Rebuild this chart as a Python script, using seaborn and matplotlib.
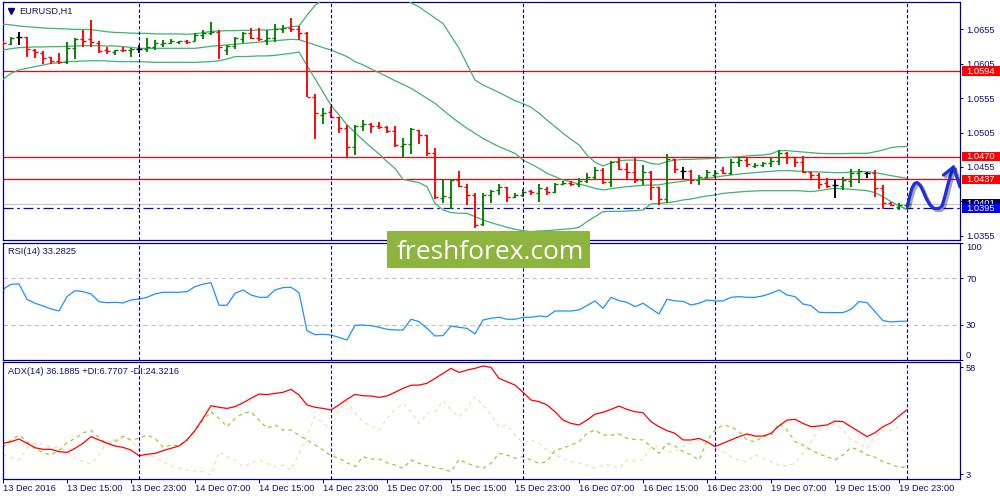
import matplotlib
matplotlib.use("Agg")
import matplotlib.pyplot as plt
import matplotlib.patheffects as pe
import matplotlib.transforms as mtransforms
from matplotlib.patches import Rectangle
import numpy as np
import pandas as pd
import seaborn as sns

# EURUSD H1 bars, 13 Dec 07:00 .. 20 Dec 00:00
opens = [1.06350, 1.06330, 1.06430, 1.06430, 1.06250, 1.06200, 1.06140, 1.06090, 1.06070, 1.06270,
         1.06400, 1.06400, 1.06350, 1.06240, 1.06220, 1.06250, 1.06240, 1.06255, 1.06260, 1.06290,
         1.06330, 1.06350, 1.06360, 1.06370, 1.06370, 1.06460, 1.06490, 1.06510, 1.06250, 1.06300,
         1.06410, 1.06490, 1.06420, 1.06390, 1.06415, 1.06545, 1.06570, 1.06550, 1.06490, 1.05570,
         1.05310, 1.05340, 1.05270, 1.05120, 1.04845, 1.05140, 1.05173, 1.05150, 1.05125, 1.05072,
         1.04860, 1.04880, 1.05080, 1.05014, 1.04748, 1.04100, 1.04120, 1.04362, 1.04265, 1.04140,
         1.03720, 1.04140, 1.04210, 1.04255, 1.04120, 1.04140, 1.04195, 1.04180, 1.04230, 1.04193,
         1.04303, 1.04323, 1.04303, 1.04342, 1.04410, 1.04500, 1.04337, 1.04627, 1.04516, 1.04482,
         1.04362, 1.04482, 1.04255, 1.04081, 1.04661, 1.04490, 1.04490, 1.04362, 1.04410, 1.04434,
         1.04500, 1.04460, 1.04627, 1.04655, 1.04570, 1.04585, 1.04603, 1.04642, 1.04748, 1.04700,
         1.04627, 1.04482, 1.04434, 1.04320, 1.04285, 1.04280, 1.04350, 1.04468, 1.04470, 1.04470,
         1.04240, 1.04023, 1.03970, 1.03995]
highs = [1.06370, 1.06430, 1.06500, 1.06440, 1.06260, 1.06236, 1.06150, 1.06200, 1.06360, 1.06415,
         1.06536, 1.06680, 1.06380, 1.06290, 1.06250, 1.06290, 1.06280, 1.06320, 1.06415, 1.06390,
         1.06390, 1.06400, 1.06370, 1.06390, 1.06490, 1.06540, 1.06650, 1.06530, 1.06320, 1.06430,
         1.06510, 1.06560, 1.06570, 1.06536, 1.06620, 1.06610, 1.06705, 1.06600, 1.06500, 1.05610,
         1.05400, 1.05434, 1.05280, 1.05160, 1.05160, 1.05230, 1.05190, 1.05200, 1.05144, 1.05140,
         1.04965, 1.05110, 1.05086, 1.05014, 1.04830, 1.04371, 1.04371, 1.04497, 1.04300, 1.04180,
         1.04168, 1.04217, 1.04303, 1.04265, 1.04168, 1.04226, 1.04217, 1.04303, 1.04255, 1.04313,
         1.04342, 1.04352, 1.04386, 1.04468, 1.04555, 1.04530, 1.04642, 1.04700, 1.04603, 1.04700,
         1.04579, 1.04490, 1.04265, 1.04738, 1.04670, 1.04545, 1.04507, 1.04434, 1.04507, 1.04507,
         1.04555, 1.04661, 1.04690, 1.04676, 1.04603, 1.04627, 1.04676, 1.04797, 1.04767, 1.04700,
         1.04710, 1.04482, 1.04458, 1.04386, 1.04362, 1.04410, 1.04516, 1.04516, 1.04478, 1.04507,
         1.04290, 1.04048, 1.04023, 1.04033]
lows = [1.06280, 1.06320, 1.06320, 1.06140, 1.06125, 1.06050, 1.06040, 1.06050, 1.06050, 1.06110,
        1.06294, 1.06290, 1.06200, 1.06190, 1.06173, 1.06210, 1.06150, 1.06200, 1.06220, 1.06250,
        1.06290, 1.06330, 1.06330, 1.06330, 1.06370, 1.06410, 1.06460, 1.06110, 1.06173, 1.06260,
        1.06340, 1.06400, 1.06380, 1.06320, 1.06366, 1.06487, 1.06500, 1.06390, 1.05560, 1.04950,
        1.05180, 1.05255, 1.05048, 1.04676, 1.04724, 1.05077, 1.05048, 1.05100, 1.05048, 1.04845,
        1.04690, 1.04738, 1.04883, 1.04710, 1.04081, 1.04033, 1.03936, 1.04265, 1.04000, 1.03660,
        1.03700, 1.04033, 1.04144, 1.04048, 1.04096, 1.04120, 1.04144, 1.04048, 1.04144, 1.04178,
        1.04290, 1.04275, 1.04255, 1.04323, 1.04362, 1.04299, 1.04265, 1.04507, 1.04371, 1.04323,
        1.04290, 1.04072, 1.04000, 1.04033, 1.04458, 1.04371, 1.04303, 1.04290, 1.04386, 1.04386,
        1.04448, 1.04434, 1.04555, 1.04555, 1.04530, 1.04555, 1.04555, 1.04579, 1.04593, 1.04555,
        1.04458, 1.04362, 1.04226, 1.04240, 1.04096, 1.04217, 1.04265, 1.04323, 1.04386, 1.04120,
        1.03936, 1.03985, 1.03927, 1.03936]
closes = [1.06340, 1.06415, 1.06430, 1.06260, 1.06210, 1.06125, 1.06080, 1.06070, 1.06270, 1.06405,
          1.06380, 1.06366, 1.06236, 1.06230, 1.06240, 1.06240, 1.06255, 1.06255, 1.06294, 1.06340,
          1.06350, 1.06370, 1.06370, 1.06360, 1.06460, 1.06490, 1.06510, 1.06290, 1.06300, 1.06415,
          1.06490, 1.06415, 1.06400, 1.06415, 1.06545, 1.06560, 1.06550, 1.06490, 1.05570, 1.05330,
          1.05335, 1.05270, 1.05120, 1.04845, 1.05140, 1.05173, 1.05140, 1.05130, 1.05072, 1.04870,
          1.04880, 1.05096, 1.05014, 1.04748, 1.04110, 1.04125, 1.04362, 1.04275, 1.04140, 1.03710,
          1.04144, 1.04207, 1.04265, 1.04120, 1.04144, 1.04193, 1.04183, 1.04240, 1.04193, 1.04303,
          1.04323, 1.04303, 1.04342, 1.04410, 1.04500, 1.04337, 1.04627, 1.04516, 1.04482, 1.04362,
          1.04482, 1.04255, 1.04081, 1.04661, 1.04516, 1.04490, 1.04362, 1.04410, 1.04482, 1.04468,
          1.04460, 1.04627, 1.04651, 1.04593, 1.04585, 1.04603, 1.04642, 1.04748, 1.04700, 1.04627,
          1.04482, 1.04434, 1.04300, 1.04275, 1.04285, 1.04362, 1.04468, 1.04497, 1.04470, 1.04240,
          1.04023, 1.04000, 1.04005, 1.04014]

# Bollinger bands as drawn
bb_upper = [1.06620, 1.06610, 1.06593, 1.06584, 1.06575, 1.06565, 1.06560, 1.06555, 1.06550, 1.06545,
            1.06545, 1.06540, 1.06526, 1.06510, 1.06500, 1.06497, 1.06490, 1.06487, 1.06487, 1.06480,
            1.06478, 1.06478, 1.06478, 1.06473, 1.06480, 1.06497, 1.06516, 1.06520, 1.06526, 1.06526,
            1.06530, 1.06530, 1.06536, 1.06536, 1.06545, 1.06555, 1.06584, 1.06593, 1.06748, 1.06893,
            1.06980, 1.07050, 1.07100, 1.07130, 1.07140, 1.07140, 1.07130, 1.07110, 1.07080, 1.07050,
            1.07000, 1.06930, 1.06870, 1.06790, 1.06710, 1.06630, 1.06450, 1.06270, 1.06040, 1.05810,
            1.05740, 1.05685, 1.05630, 1.05570, 1.05510, 1.05470, 1.05415, 1.05330, 1.05230, 1.05135,
            1.05040, 1.04950, 1.04870, 1.04724, 1.04618, 1.04565, 1.04610, 1.04640, 1.04650, 1.04650,
            1.04640, 1.04600, 1.04590, 1.04627, 1.04650, 1.04660, 1.04660, 1.04666, 1.04670, 1.04676,
            1.04685, 1.04690, 1.04700, 1.04710, 1.04720, 1.04724, 1.04740, 1.04787, 1.04787, 1.04777,
            1.04767, 1.04758, 1.04748, 1.04743, 1.04743, 1.04743, 1.04748, 1.04748, 1.04748, 1.04770,
            1.04796, 1.04830, 1.04845, 1.04845]
bb_middle = [1.06246, 1.06265, 1.06280, 1.06284, 1.06290, 1.06290, 1.06294, 1.06294, 1.06300, 1.06304,
             1.06308, 1.06308, 1.06308, 1.06304, 1.06304, 1.06294, 1.06284, 1.06270, 1.06270, 1.06270,
             1.06270, 1.06270, 1.06270, 1.06270, 1.06270, 1.06284, 1.06300, 1.06308, 1.06320, 1.06328,
             1.06340, 1.06350, 1.06360, 1.06370, 1.06380, 1.06390, 1.06400, 1.06395, 1.06357, 1.06320,
             1.06280, 1.06246, 1.06197, 1.06150, 1.06077, 1.06030, 1.05970, 1.05917, 1.05860, 1.05800,
             1.05748, 1.05690, 1.05618, 1.05545, 1.05473, 1.05376, 1.05280, 1.05193, 1.05110, 1.05038,
             1.04965, 1.04903, 1.04845, 1.04796, 1.04748, 1.04650, 1.04593, 1.04530, 1.04458, 1.04410,
             1.04362, 1.04337, 1.04303, 1.04275, 1.04240, 1.04217, 1.04236, 1.04250, 1.04265, 1.04275,
             1.04284, 1.04290, 1.04290, 1.04313, 1.04328, 1.04342, 1.04362, 1.04371, 1.04386, 1.04400,
             1.04420, 1.04434, 1.04448, 1.04458, 1.04468, 1.04478, 1.04487, 1.04497, 1.04497, 1.04492,
             1.04487, 1.04482, 1.04478, 1.04473, 1.04468, 1.04468, 1.04478, 1.04482, 1.04482, 1.04468,
             1.04448, 1.04425, 1.04405, 1.04386]
bb_lower = [1.05820, 1.05907, 1.05956, 1.05980, 1.06004, 1.06028, 1.06052, 1.06060, 1.06077, 1.06080,
            1.06086, 1.06090, 1.06090, 1.06086, 1.06080, 1.06077, 1.06077, 1.06077, 1.06072, 1.06067,
            1.06067, 1.06067, 1.06067, 1.06067, 1.06067, 1.06072, 1.06077, 1.06090, 1.06115, 1.06150,
            1.06150, 1.06154, 1.06160, 1.06160, 1.06168, 1.06183, 1.06197, 1.06217, 1.06018, 1.05830,
            1.05637, 1.05444, 1.05304, 1.05160, 1.05050, 1.04940, 1.04835, 1.04740, 1.04627, 1.04530,
            1.04370, 1.04347, 1.04323, 1.04265, 1.04023, 1.03927, 1.03890, 1.03880, 1.03880, 1.03830,
            1.03782, 1.03743, 1.03710, 1.03676, 1.03647, 1.03627, 1.03613, 1.03623, 1.03627, 1.03637,
            1.03647, 1.03656, 1.03676, 1.03758, 1.03830, 1.03903, 1.03907, 1.03907, 1.03912, 1.03917,
            1.03927, 1.04014, 1.04023, 1.04033, 1.04048, 1.04072, 1.04086, 1.04110, 1.04130, 1.04144,
            1.04168, 1.04178, 1.04188, 1.04197, 1.04202, 1.04207, 1.04207, 1.04207, 1.04207, 1.04207,
            1.04202, 1.04193, 1.04207, 1.04226, 1.04240, 1.04236, 1.04226, 1.04217, 1.04207, 1.04178,
            1.04120, 1.04048, 1.03985, 1.03936]

rsi = [60.6, 64.9, 65.1, 52.0, 48.6, 46.3, 43.7, 42.0, 54.3, 59.4,
       58.6, 56.6, 50.0, 49.1, 49.4, 48.9, 51.4, 52.3, 53.7, 56.6,
       58.0, 58.0, 58.0, 58.6, 62.9, 64.9, 66.3, 46.9, 46.9, 57.1,
       60.0, 55.7, 53.7, 53.7, 60.0, 62.0, 62.3, 57.7, 25.1, 21.7,
       22.0, 21.4, 19.4, 17.1, 29.7, 30.0, 29.4, 28.0, 26.3, 25.7,
       25.7, 34.9, 32.9, 27.1, 20.6, 20.9, 29.1, 28.0, 27.1, 22.3,
       34.3, 35.7, 36.6, 34.9, 34.9, 36.6, 36.6, 37.7, 37.1, 42.0,
       42.0, 42.0, 42.9, 46.6, 50.6, 44.3, 53.7, 50.9, 49.4, 45.7,
       48.6, 44.0, 39.4, 52.0, 50.6, 50.3, 47.1, 48.6, 51.4, 50.6,
       50.6, 53.7, 54.3, 53.7, 53.7, 54.9, 57.1, 60.0, 55.7, 54.3,
       48.0, 46.6, 40.9, 40.6, 40.6, 40.6, 43.4, 50.0, 49.1, 41.4,
       33.7, 32.6, 33.1, 33.2825]

adx = [19.0, 19.8, 21.2, 19.0, 16.7, 15.9, 15.9, 14.7, 14.3, 16.4,
       19.0, 22.4, 20.7, 19.0, 17.6, 16.9, 15.5, 12.6, 13.3, 13.8,
       15.2, 16.4, 17.6, 20.7, 25.5, 31.8, 38.3, 37.5, 36.9, 37.8,
       39.8, 42.1, 44.3, 44.0, 44.6, 45.2, 46.7, 43.8, 38.7, 37.5,
       36.9, 36.1, 38.7, 41.6, 44.1, 43.4, 43.3, 42.6, 43.3, 45.2,
       47.2, 48.8, 48.9, 49.8, 52.3, 54.9, 57.5, 55.4, 56.6, 57.5,
       58.7, 58.0, 52.3, 50.6, 48.9, 45.2, 41.2, 40.4, 38.7, 35.2,
       30.9, 29.2, 28.4, 30.9, 34.0, 34.9, 36.4, 38.1, 36.4, 35.2,
       34.7, 30.1, 27.5, 25.5, 24.1, 20.7, 20.7, 21.5, 19.8, 17.3,
       19.0, 20.7, 22.4, 23.8, 22.7, 22.7, 24.1, 27.9, 30.9, 31.3,
       29.2, 27.5, 27.9, 28.4, 30.4, 30.1, 27.5, 25.0, 22.4, 24.4,
       27.5, 29.5, 33.0, 36.1885]
plus_di = [16.9, 20.7, 23.2, 19.8, 16.4, 14.2, 13.0, 15.5, 19.3, 21.5,
           24.4, 25.5, 22.0, 18.6, 19.8, 22.7, 20.7, 21.5, 23.2, 21.5,
           16.9, 18.1, 17.6, 20.7, 25.8, 30.9, 35.2, 31.8, 27.5, 31.8,
           34.4, 35.2, 30.9, 26.7, 28.4, 25.8, 25.8, 23.2, 20.7, 18.1,
           15.5, 12.5, 11.3, 9.0, 7.0, 12.1, 10.9, 10.9, 9.0, 7.8,
           6.1, 10.4, 8.7, 7.3, 6.5, 5.8, 4.4, 10.7, 8.7, 7.3,
           6.1, 8.7, 13.8, 13.0, 11.3, 12.1, 10.4, 8.7, 9.5, 15.5,
           16.4, 18.1, 19.8, 24.1, 25.8, 23.2, 23.2, 23.8, 21.5, 21.0,
           20.7, 17.3, 13.8, 19.0, 17.6, 14.7, 13.0, 10.4, 20.3, 25.8,
           28.4, 27.5, 25.0, 20.7, 19.8, 22.4, 23.2, 29.2, 25.8, 19.8,
           18.1, 15.5, 13.5, 12.1, 10.4, 13.0, 16.9, 15.5, 13.0, 11.8,
           9.5, 8.2, 6.6, 6.7707]
minus_di = [13.0, 11.8, 10.4, 16.4, 19.0, 18.6, 16.9, 16.9, 14.7, 11.3,
            9.5, 8.3, 13.0, 19.8, 20.7, 21.5, 20.7, 15.5, 13.0, 12.1,
            9.5, 7.3, 6.1, 5.3, 4.7, 4.4, 2.7, 14.7, 12.1, 10.4,
            7.0, 8.7, 10.4, 8.7, 7.0, 7.8, 5.3, 13.8, 23.2, 32.7,
            29.2, 26.7, 36.1, 40.4, 34.4, 30.1, 27.9, 25.8, 31.8, 36.1,
            39.5, 35.2, 29.2, 34.4, 35.2, 40.9, 36.1, 32.7, 36.9, 42.9,
            38.7, 33.5, 27.5, 28.4, 23.2, 19.3, 20.7, 19.0, 15.5, 13.0,
            11.3, 9.5, 8.7, 7.8, 6.1, 7.8, 7.8, 6.1, 10.4, 10.1,
            10.4, 17.3, 17.3, 14.7, 14.7, 17.3, 19.0, 20.7, 19.3, 16.9,
            14.7, 12.1, 10.4, 9.5, 13.0, 11.3, 9.5, 7.8, 7.3, 8.7,
            13.8, 19.8, 25.8, 26.7, 29.2, 25.8, 20.7, 19.0, 16.4, 22.4,
            25.8, 25.5, 27.5, 24.3216]

red_levels = [1.0594, 1.0470, 1.0437]
support_level = 1.0395
price_ticks = [1.0355, 1.0405, 1.0455, 1.0505, 1.0555, 1.0605, 1.0655]
hidden_ticks = [1.0405]  # sits under the price boxes on the scale
separator_bars = [17, 41, 65, 89, 113]
tick_bars = [0, 8, 16, 24, 32, 40, 48, 56, 64, 72, 80, 88, 96, 104, 112]
tick_labels = ["13 Dec 2016", "13 Dec 15:00", "13 Dec 23:00", "14 Dec 07:00", "14 Dec 15:00",
               "14 Dec 23:00", "15 Dec 07:00", "15 Dec 15:00", "15 Dec 23:00", "16 Dec 07:00",
               "16 Dec 15:00", "16 Dec 23:00", "19 Dec 07:00", "19 Dec 15:00", "19 Dec 23:00"]

# hand drawn forecast wave + arrow head
forecast_bars = [113.06, 113.31, 113.63, 113.94, 114.25, 114.63, 115.0, 115.44, 115.88,
                 116.38, 117.0, 117.38, 117.75, 118.13, 118.5, 118.81]
forecast_prices = [1.03985, 1.04115, 1.04246, 1.04311, 1.04325, 1.04289, 1.04202, 1.04086,
                   1.03999, 1.03949, 1.03949, 1.03985, 1.04130, 1.04304, 1.04449, 1.04550]
arrow_bars = [117.56, 118.81, 119.63]
arrow_prices = [1.04434, 1.04550, 1.04260]

NAVY = "#000080"
TXT = "#101078"
UP = "#008000"
DOWN = "#ff0000"
FS = 6.7

sns.set_style("white")
plt.rcParams["font.family"] = ["Liberation Sans", "DejaVu Sans"]

fig = plt.figure(figsize=(10, 5), dpi=100)
ax = fig.add_axes([0.0027, 0.52, 0.9573, 0.4754])
ax_rsi = fig.add_axes([0.0027, 0.28, 0.9573, 0.2346])
ax_adx = fig.add_axes([0.0027, 0.043, 0.9573, 0.2324])

bars = np.arange(len(closes))
df = pd.DataFrame({"bar": bars, "open": opens, "high": highs, "low": lows, "close": closes})
colors = np.where(df.close > df.open, UP, np.where(df.close < df.open, DOWN, "black"))

# ---- main price panel
ax.axhline(closes[-1], color="#c8c8c8", lw=0.9, zorder=1)
for lvl in red_levels:
    ax.axhline(lvl, color="#ff0000", lw=0.9, zorder=2)
ax.axhline(support_level, color="#0000c8", lw=0.9, ls=(0, (8, 3, 2, 3)), zorder=2)

bands = pd.DataFrame({"bar": bars, "upper": bb_upper, "middle": bb_middle, "lower": bb_lower})
bands_long = bands.melt("bar", var_name="band", value_name="price")
sns.lineplot(data=bands_long, x="bar", y="price", units="band", estimator=None,
             color="#3cb371", lw=0.9, ax=ax, legend=False, zorder=3)

ax.vlines(df.bar, df.low, df.high, colors=colors, lw=1.35, zorder=4)
ax.hlines(df.open, df.bar - 0.4, df.bar, colors=colors, lw=1.0, zorder=4)
ax.hlines(df.close, df.bar, df.bar + 0.4, colors=colors, lw=1.0, zorder=4)

shadow = [pe.SimpleLineShadow(offset=(1.5, -1.5), shadow_color="black", alpha=0.35), pe.Normal()]
ax.plot(forecast_bars, forecast_prices, color="#1c2fe0", lw=2.3, solid_capstyle="round",
        solid_joinstyle="round", path_effects=shadow, zorder=6)
ax.plot(arrow_bars, arrow_prices, color="#1c2fe0", lw=2.3, solid_capstyle="round",
        solid_joinstyle="round", path_effects=shadow, zorder=6)

ax.set_ylim(1.03492, 1.06937)
ax.set_yticks(price_ticks)
ax.set_yticklabels(["" if v in hidden_ticks else f"{v:.4f}" for v in price_ticks])

ax.text(0.017, 0.9634, "EURUSD,H1", transform=ax.transAxes, fontsize=FS, color=TXT,
        ha="left", va="center")
ax.plot([0.0082], [0.9647], marker="v", ms=4.2, color=NAVY, transform=ax.transAxes,
        clip_on=False)

# price boxes on the right scale
trans = mtransforms.blended_transform_factory(fig.transFigure, ax.transData)
box_h = 0.00135
boxes = [(lvl, "#ff0000") for lvl in red_levels] + [(closes[-1], "#000060"), (support_level, "#0000ff")]
for z, (lvl, col) in enumerate(boxes):
    ax.add_patch(Rectangle((0.9617, lvl - box_h / 2), 0.0383, box_h, transform=trans,
                           facecolor=col, edgecolor="none", clip_on=False, zorder=10 + z))
    ax.text(0.9660, lvl, f"{lvl:.4f}", transform=trans, color="white", fontsize=FS,
            ha="left", va="center", clip_on=False, zorder=10 + z)

# ---- RSI panel
rsi_df = pd.DataFrame({"bar": bars, "rsi": rsi})
sns.lineplot(data=rsi_df, x="bar", y="rsi", color="#1e90ff", lw=0.9, ax=ax_rsi)
for lvl in (70, 30):
    ax_rsi.axhline(lvl, color="#c0c0c0", lw=0.8, ls=(0, (4, 3)), zorder=0)
ax_rsi.set_ylim(0, 100.5)
ax_rsi.set_yticks([100, 70, 30, 0])
ax_rsi.set_yticklabels(["100", "70", "30", "0"])
ax_rsi.text(0.0055, 0.929, f"RSI(14) {rsi[-1]:.4f}", transform=ax_rsi.transAxes,
            fontsize=FS, color=TXT, ha="left", va="center")

# ---- ADX panel
adx_df = pd.DataFrame({"bar": bars, "adx": adx, "plus": plus_di, "minus": minus_di})
sns.lineplot(data=adx_df, x="bar", y="minus", color="#f5deb3", lw=0.9, ls=(0, (3, 3)), ax=ax_adx)
sns.lineplot(data=adx_df, x="bar", y="plus", color="#9acd32", lw=0.9, ls=(0, (3, 3)), ax=ax_adx)
sns.lineplot(data=adx_df, x="bar", y="adx", color="#ff0000", lw=0.9, ax=ax_adx)
ax_adx.set_ylim(0.9, 60.6)
ax_adx.set_yticks([58, 3])
ax_adx.set_yticklabels(["58", "3"])
ax_adx.text(0.0055, 0.919,
            f"ADX(14) {adx[-1]:.4f} +DI:{plus_di[-1]:.4f} -DI:{minus_di[-1]:.4f}",
            transform=ax_adx.transAxes, fontsize=FS, color=TXT, ha="left", va="center")

ax_adx.set_xticks(tick_bars)
ax_adx.set_xticklabels(tick_labels)
for lab in ax_adx.get_xticklabels():
    lab.set_ha("left")

# ---- common styling
for a in (ax, ax_rsi, ax_adx):
    a.set_xlim(-0.04, 119.625)
    a.set_xlabel("")
    a.set_ylabel("")
    a.yaxis.tick_right()
    a.tick_params(axis="y", right=True, left=False, length=2.2, width=0.7, pad=2.2,
                  color=NAVY, labelcolor=TXT, labelsize=FS)
    for s in a.spines.values():
        s.set_color(NAVY)
        s.set_linewidth(0.9)
    for b in separator_bars:
        a.axvline(b, color=NAVY, lw=0.8, ls=(0, (3, 2)), zorder=5)
for a in (ax, ax_rsi):
    a.tick_params(axis="x", bottom=False, labelbottom=False)
ax_adx.tick_params(axis="x", bottom=True, length=3, width=0.7, pad=1.2, color=NAVY,
                   labelcolor=TXT, labelsize=FS)

for lab in ax_rsi.get_yticklabels():
    if lab.get_text() == "100":
        lab.set_va("top")
    elif lab.get_text() == "0":
        lab.set_va("bottom")

# ---- watermark
fig.add_artist(Rectangle((0.3873, 1 - 268.3 / 500), 0.2027, 37.6 / 500,
                         transform=fig.transFigure, facecolor="#8db43f", edgecolor="none",
                         zorder=20))
fig.text(0.3967, 1 - 259.3 / 500, "freshforex.com", color="white", fontsize=19,
         family="Open Sans", ha="left", va="baseline", zorder=21)

fig.savefig("out.png", dpi=100, facecolor="white")
